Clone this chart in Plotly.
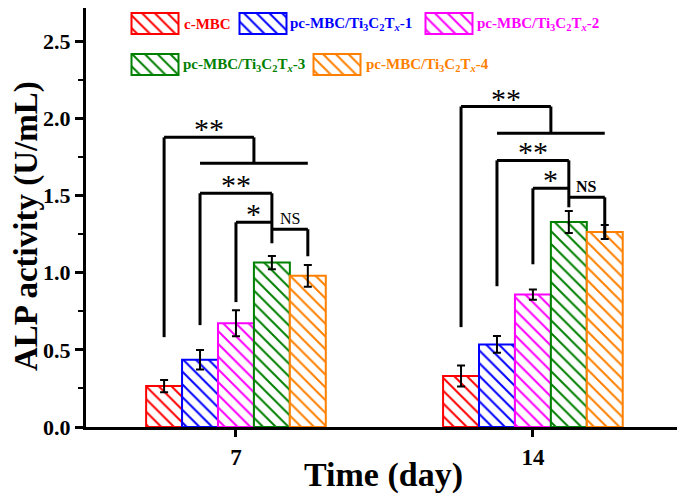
import plotly.graph_objects as go

days = ["7", "14"]
day_pos = [0, 1]

series = ["c-MBC",
          "pc-MBC/Ti<sub>3</sub>C<sub>2</sub>T<sub><i>x</i></sub>-1",
          "pc-MBC/Ti<sub>3</sub>C<sub>2</sub>T<sub><i>x</i></sub>-2",
          "pc-MBC/Ti<sub>3</sub>C<sub>2</sub>T<sub><i>x</i></sub>-3",
          "pc-MBC/Ti<sub>3</sub>C<sub>2</sub>T<sub><i>x</i></sub>-4"]
colors = ["#FF0000", "#0000FF", "#FF00FF", "#008000", "#FF8000"]

# ALP activity (U/mL) at day 7 and day 14, with error bars
alp_c_mbc = [0.265, 0.33]
alp_pc_1 = [0.435, 0.535]
alp_pc_2 = [0.672, 0.858]
alp_pc_3 = [1.065, 1.328]
alp_pc_4 = [0.979, 1.263]
err_c_mbc = [0.04, 0.068]
err_pc_1 = [0.063, 0.054]
err_pc_2 = [0.084, 0.033]
err_pc_3 = [0.043, 0.071]
err_pc_4 = [0.07, 0.045]

values = [alp_c_mbc, alp_pc_1, alp_pc_2, alp_pc_3, alp_pc_4]
errors = [err_c_mbc, err_pc_1, err_pc_2, err_pc_3, err_pc_4]

# significance brackets (heights in U/mL), per day
drop_day7 = [0.582, 0.66, 0.809, 1.19, 1.106]
drop_day14 = [0.647, 0.912, 1.054, 1.423, 1.223]
top_y = [1.876, 2.076]
low_y = [1.708, 1.902]
mid_y = [1.514, 1.727]
star_y = [1.326, 1.546]
ns_y = [1.281, 1.488]
drops = [drop_day7, drop_day14]

bargap = 0.395
bar_w = (1 - bargap) / len(series)

font = "Liberation Serif"
fig = go.Figure()

for i in range(len(series)):
    fig.add_trace(go.Bar(
        x=day_pos, y=values[i], name=series[i],
        marker=dict(color="white", line=dict(color=colors[i], width=2),
                    pattern=dict(shape="\\", fgcolor=colors[i], bgcolor="white",
                                 size=9, solidity=0.22, fillmode="replace")),
        error_y=dict(type="data", array=errors[i], color="black", thickness=2, width=4),
        showlegend=False))

def bx(g, i):
    return day_pos[g] + (i - 2) * bar_w

shapes = []
annos = []
def seg(x0, y0, x1, y1):
    shapes.append(dict(type="line", xref="x", yref="y", x0=x0, y0=y0, x1=x1, y1=y1,
                       line=dict(color="black", width=3)))

def star(x, y, txt, size=30, fam=font, shift=6):
    annos.append(dict(x=x, y=y, xref="x", yref="y", text=txt, showarrow=False,
                      yanchor="bottom", yshift=shift,
                      font=dict(family=fam, size=size, color="black")))

for g in range(len(day_pos)):
    d = drops[g]
    xr, xb, xm, xg, xo = [bx(g, i) for i in range(5)]
    xmid = (xb + xo) / 2
    # top bracket
    seg(xr, d[0], xr, top_y[g])
    seg(xr, top_y[g], xmid, top_y[g])
    seg(xmid, top_y[g], xmid, low_y[g])
    seg(xb, low_y[g], xo, low_y[g])
    # blue -> green
    seg(xb, d[1], xb, mid_y[g])
    seg(xb, mid_y[g], xg, mid_y[g])
    seg(xg, mid_y[g], xg, d[3])
    # magenta -> green
    seg(xm, d[2], xm, star_y[g])
    seg(xm, star_y[g], xg, star_y[g])
    # green -> orange
    seg(xg, ns_y[g], xo, ns_y[g])
    seg(xo, ns_y[g], xo, d[4])
    star((xr + xmid) / 2, top_y[g], "**", shift=-10)
    star((xb + xg) / 2, mid_y[g], "**", shift=-10)
    star((xm + xg) / 2, star_y[g], "*", shift=-10)
    star((xg + xo) / 2, ns_y[g], "<b>NS</b>" if g else "NS", size=16, shift=0)

# legend drawn on an overlay axis measured in screen pixels
leg_x = [155, 263, 449, 155, 337]
leg_y = [13, 13, 13, 54, 54]
leg_text_x = [182, 288, 475, 181, 364]
fig.add_trace(go.Bar(
    x=leg_x, y=[21] * 5, base=leg_y, width=[47] * 5, xaxis="x2", yaxis="y2",
    marker=dict(color="white", line=dict(color=colors, width=2),
                pattern=dict(shape="\\", fgcolor=colors, bgcolor="white",
                             size=9, solidity=0.22, fillmode="replace")),
    hoverinfo="skip", showlegend=False))
for i in range(len(series)):
    annos.append(dict(x=leg_text_x[i], y=leg_y[i] + 11, xref="x2", yref="y2",
                      text="<b>" + series[i] + "</b>", showarrow=False,
                      xanchor="left", yanchor="middle",
                      font=dict(family=font, size=15, color=colors[i])))

# axis titles, placed in paper units
annos.append(dict(x=0.5025, y=-0.1146, xref="paper", yref="paper", text="<b>Time (day)</b>",
                  showarrow=False, xanchor="center", yanchor="middle",
                  font=dict(family=font, size=34, color="black")))
annos.append(dict(x=-0.1012, y=0.4797, xref="paper", yref="paper", text="<b>ALP activity (U/mL)</b>",
                  showarrow=False, xanchor="center", yanchor="middle", textangle=-90,
                  font=dict(family=font, size=33, color="black")))

# page body adds an 8px offset, so the figure is 8px smaller than the window
fig.update_layout(
    width=677, height=488, margin=dict(l=78, r=6, t=0, b=69),
    plot_bgcolor="white", paper_bgcolor="white",
    barmode="group", bargap=bargap, bargroupgap=0,
    shapes=shapes, annotations=annos,
    font=dict(family=font, color="black"),
    xaxis=dict(range=[-0.505, 1.492], tickvals=day_pos, ticktext=days, automargin=False,
               ticks="outside", ticklen=7, tickwidth=3, tickcolor="black",
               ticklabelstandoff=0,
               showline=True, linewidth=3, linecolor="black", mirror=True,
               showgrid=False, zeroline=False,
               tickfont=dict(family=font, size=23, weight="bold")),
    yaxis=dict(range=[0, 2.714], dtick=0.5, tick0=0, tickformat=".1f", automargin=False,
               ticks="outside", ticklen=8, tickwidth=3, tickcolor="black",
               minor=dict(dtick=0.25, ticks="outside", ticklen=5, tickwidth=2, tickcolor="black"),
               showline=True, linewidth=3, linecolor="black", mirror=True,
               showgrid=False, zeroline=False,
               tickfont=dict(family=font, size=22, weight="bold")),
    xaxis2=dict(domain=[0, 1], range=[86, 679], overlaying="x", anchor="y2", visible=False),
    yaxis2=dict(domain=[0, 1], range=[427, 8], overlaying="y", anchor="x2", visible=False),
)

fig.write_html("out.html")
